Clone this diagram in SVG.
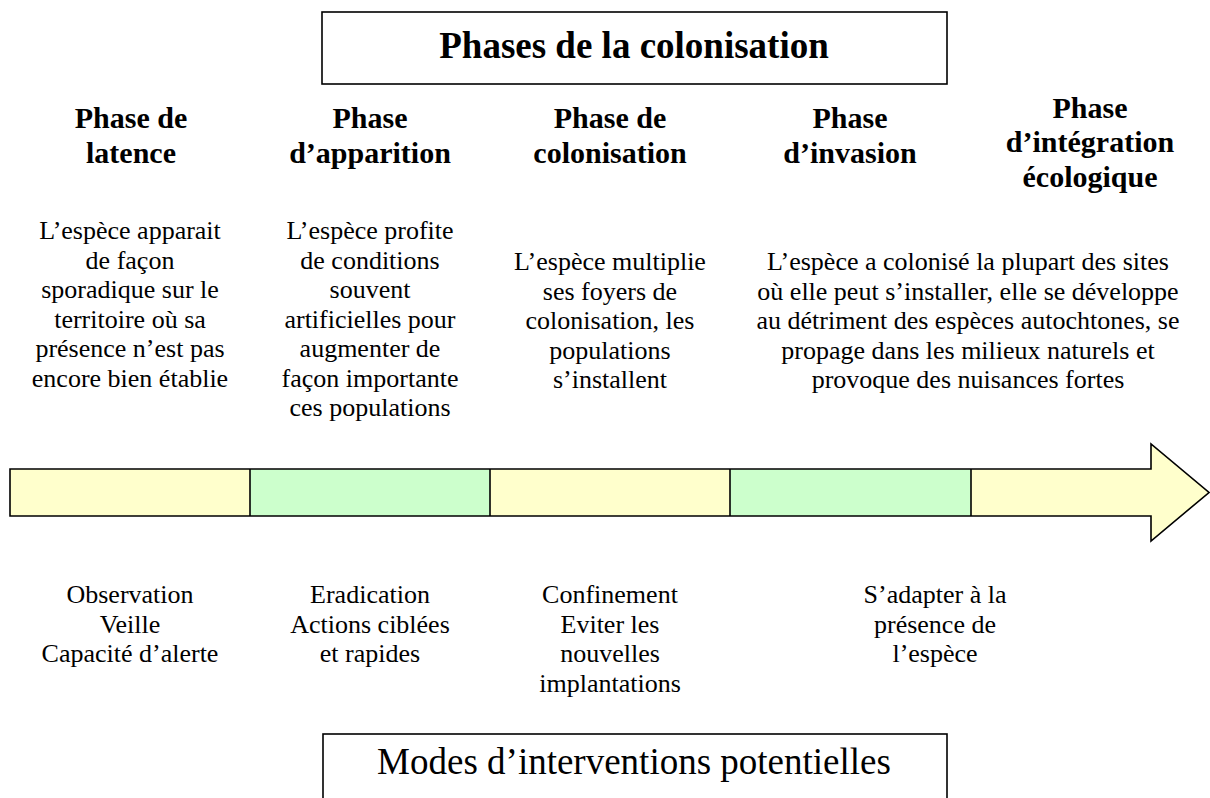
<svg xmlns="http://www.w3.org/2000/svg" width="1210" height="798" viewBox="0 0 1210 798">
  <style>
    text { font-family: "Liberation Serif", "Times New Roman", serif; fill: #000; text-anchor: middle; }
    .title { font-size: 37px; font-weight: bold; }
    .head { font-size: 30px; font-weight: bold; }
    .body { font-size: 26px; }
    .modes { font-size: 37px; }
    .box { fill: #fff; stroke: #000; stroke-width: 1.6; }
    .yel { fill: #FFFFCC; }
    .grn { fill: #CCFFCC; }
    .edge { fill: none; stroke: #000; stroke-width: 1.6; stroke-linejoin: miter; }
  </style>

  <!-- Title box -->
  <g id="title">
    <rect class="box" x="322" y="12" width="625" height="72"/>
    <text class="title" x="634" y="58">Phases de la colonisation</text>
  </g>

  <!-- Phase headings -->
  <g id="head-latence">
    <text class="head" x="131" y="128">Phase de</text>
    <text class="head" x="131" y="163">latence</text>
  </g>
  <g id="head-apparition">
    <text class="head" x="370" y="128">Phase</text>
    <text class="head" x="370" y="163">d’apparition</text>
  </g>
  <g id="head-colonisation">
    <text class="head" x="610" y="128">Phase de</text>
    <text class="head" x="610" y="163">colonisation</text>
  </g>
  <g id="head-invasion">
    <text class="head" x="850" y="128">Phase</text>
    <text class="head" x="850" y="163">d’invasion</text>
  </g>
  <g id="head-integration">
    <text class="head" x="1090" y="118">Phase</text>
    <text class="head" x="1090" y="152">d’intégration</text>
    <text class="head" x="1090" y="187">écologique</text>
  </g>

  <!-- Phase descriptions -->
  <g id="desc-latence">
    <text class="body" x="130" y="239">L’espèce apparait</text>
    <text class="body" x="130" y="268.5">de façon</text>
    <text class="body" x="130" y="298">sporadique sur le</text>
    <text class="body" x="130" y="327.5">territoire où sa</text>
    <text class="body" x="130" y="357">présence n’est pas</text>
    <text class="body" x="130" y="386.5">encore bien établie</text>
  </g>
  <g id="desc-apparition">
    <text class="body" x="370" y="239">L’espèce profite</text>
    <text class="body" x="370" y="268.5">de conditions</text>
    <text class="body" x="370" y="298">souvent</text>
    <text class="body" x="370" y="327.5">artificielles pour</text>
    <text class="body" x="370" y="357">augmenter de</text>
    <text class="body" x="370" y="386.5">façon importante</text>
    <text class="body" x="370" y="416">ces populations</text>
  </g>
  <g id="desc-colonisation">
    <text class="body" x="610" y="270">L’espèce multiplie</text>
    <text class="body" x="610" y="299.5">ses foyers de</text>
    <text class="body" x="610" y="329">colonisation, les</text>
    <text class="body" x="610" y="358.5">populations</text>
    <text class="body" x="610" y="388">s’installent</text>
  </g>
  <g id="desc-invasion">
    <text class="body" x="968" y="270">L’espèce a colonisé la plupart des sites</text>
    <text class="body" x="968" y="299.5">où elle peut s’installer, elle se développe</text>
    <text class="body" x="968" y="329">au détriment des espèces autochtones, se</text>
    <text class="body" x="968" y="358.5">propage dans les milieux naturels et</text>
    <text class="body" x="968" y="388">provoque des nuisances fortes</text>
  </g>

  <!-- Timeline arrow, split into coloured segments -->
  <g id="timeline">
    <rect class="yel" x="10" y="469" width="240" height="47"/>
    <rect class="grn" x="250" y="469" width="240" height="47"/>
    <rect class="yel" x="490" y="469" width="240" height="47"/>
    <rect class="grn" x="730" y="469" width="241" height="47"/>
    <polygon class="yel" points="971,469 1151,469 1151,444 1209,492.5 1151,541 1151,516 971,516"/>
    <polygon class="edge" points="10,469 1151,469 1151,444 1209,492.5 1151,541 1151,516 10,516"/>
    <g class="edge">
      <line x1="250" y1="469" x2="250" y2="516"/>
      <line x1="490" y1="469" x2="490" y2="516"/>
      <line x1="730" y1="469" x2="730" y2="516"/>
      <line x1="971" y1="469" x2="971" y2="516"/>
    </g>
  </g>

  <!-- Intervention modes -->
  <g id="mode-observation">
    <text class="body" x="130" y="603">Observation</text>
    <text class="body" x="130" y="632.5">Veille</text>
    <text class="body" x="130" y="662">Capacité d’alerte</text>
  </g>
  <g id="mode-eradication">
    <text class="body" x="370" y="603">Eradication</text>
    <text class="body" x="370" y="632.5">Actions ciblées</text>
    <text class="body" x="370" y="662">et rapides</text>
  </g>
  <g id="mode-confinement">
    <text class="body" x="610" y="603">Confinement</text>
    <text class="body" x="610" y="632.5">Eviter les</text>
    <text class="body" x="610" y="662">nouvelles</text>
    <text class="body" x="610" y="691.5">implantations</text>
  </g>
  <g id="mode-adapter">
    <text class="body" x="935" y="603">S’adapter à la</text>
    <text class="body" x="935" y="632.5">présence de</text>
    <text class="body" x="935" y="662">l’espèce</text>
  </g>

  <!-- Bottom caption box (runs off the lower edge) -->
  <g id="modes">
    <rect class="box" x="323" y="734" width="624" height="80"/>
    <text class="modes" x="634" y="774">Modes d’interventions potentielles</text>
  </g>
</svg>
